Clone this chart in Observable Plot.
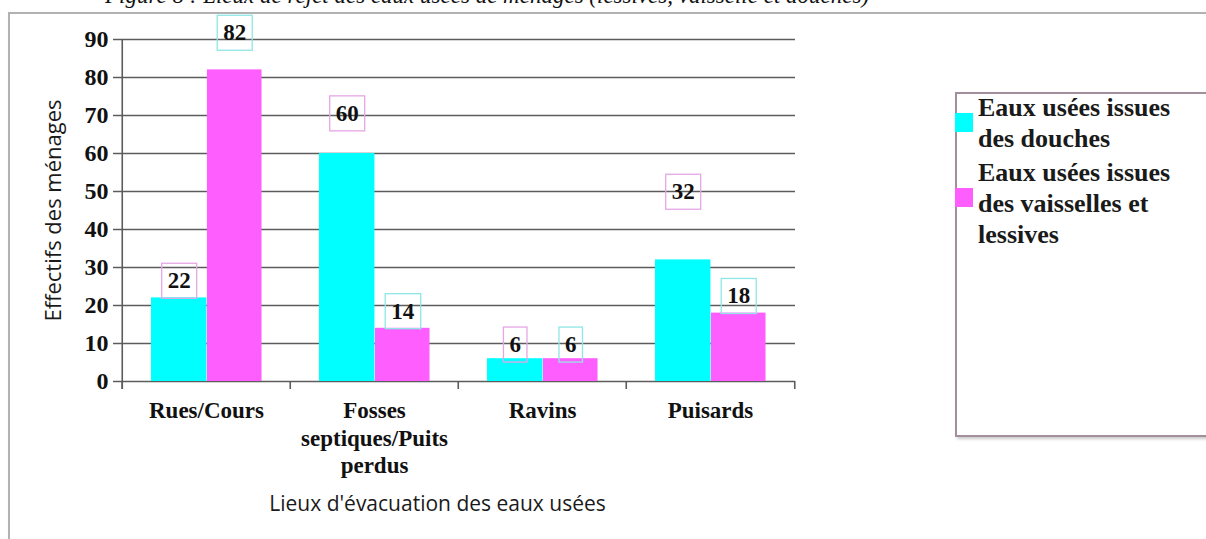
<!DOCTYPE html>
<html>
<head>
<meta charset="utf-8">
<script src="https://cdn.jsdelivr.net/npm/d3@7"></script>
<script src="https://cdn.jsdelivr.net/npm/@observablehq/plot@0.6"></script>
<style>
  html, body { margin: 0; padding: 0; background: #fff; }
  #wrap { position: relative; width: 1206px; height: 539px; overflow: hidden; background: #fff; }
  #title { position: absolute; left: 105px; top: -17px; font: italic 23px "Liberation Serif", serif; white-space: nowrap; color: #111; }
  #frame { position: absolute; left: 8px; top: 12px; width: 1230px; height: 580px; border: 2px solid #b2b2b2; box-shadow: 1px 1px 2px #d0d0d0; background: #fff; }
  #chart { position: absolute; left: 0; top: 0; }
  #legend { position: absolute; left: 955px; top: 92px; width: 270px; height: 341px; border: 2px solid #a38f9b; box-shadow: 2px 2px 3px #c8c8c8; background: #fff; }
  .item { position: absolute; left: 0; font: bold 26px "Liberation Serif", serif; line-height: 31px; color: #1a1a1a; }
  .sw { position: absolute; left: -2px; width: 18px; height: 19px; }
  .txt { position: absolute; left: 21px; white-space: nowrap; }
</style>
</head>
<body>
<div id="wrap">
  <div id="frame"></div>
  <div id="title"></div>
  <div id="chart"></div>
  <div id="legend"></div>
</div>
<script>
// ---- data ----
const categories = ["Rues/Cours", "Fosses septiques/Puits perdus", "Ravins", "Puisards"];
const categoryLabels = ["Rues/Cours", "Fosses\nseptiques/Puits\nperdus", "Ravins", "Puisards"];
const seriesNames = ["Eaux usées issues des douches", "Eaux usées issues des vaisselles et lessives"];
const legendLines = [["Eaux usées issues", "des douches"], ["Eaux usées issues", "des vaisselles et", "lessives"]];
const douches = [22, 60, 6, 32];
const vaisselles = [82, 14, 6, 18];
const yTicks = [0, 10, 20, 30, 40, 50, 60, 70, 80, 90];
const titleText = "Figure 8 : Lieux de rejet des eaux usées de ménages (lessives, vaisselle et douches)";
const xTitle = "Lieux d'évacuation des eaux usées";
const yTitle = "Effectifs des ménages";

// ---- styles / layout ----
const colors = ["#00ffff", "#ff5eff"];
const boxColors = ["#e6a6e6", "#8fe6e6"];
const W = 1206, H = 539, mL = 121, mR = 411, mT = 39, mB = 158;
const bw = (W - mL - mR) / categories.length;
const pxPerUnit = (H - mT - mB) / 90;
const insets = [
  {left: 0.172 * bw, right: bw - 0.172 * bw - 0.332 * bw},
  {left: 0.504 * bw, right: bw - 0.504 * bw - 0.327 * bw}
];
const centerOff = insets.map(s => (s.left + (bw - s.right)) / 2 - bw / 2);
// label lift above bar top (px); a few labels sit higher in the original
const liftDefault = 17;
const liftSpecial = {"Rues/Cours|1": 37, "Fosses septiques/Puits perdus|0": 40, "Puisards|0": 68, "Ravins|0": 14, "Ravins|1": 14};

const rows = categories.flatMap((c, i) => [
  {cat: c, s: 0, v: douches[i]},
  {cat: c, s: 1, v: vaisselles[i]}
]);

const serifBold = {fontFamily: "Liberation Serif", fontWeight: "bold", fontSize: 24, fill: "#111"};
const gridColor = "#5c5c5c";

const marks = [
  Plot.ruleY(yTicks, {y: d => d, stroke: gridColor, strokeWidth: 1.6, insetLeft: -8}),
  ...[0, 1].map(s => Plot.barY(rows.filter(r => r.s === s), {
    x: "cat", y: "v", fill: colors[s], insetLeft: insets[s].left, insetRight: insets[s].right
  })),
  Plot.ruleX([categories[0]], {x: d => d, dx: -bw / 2, stroke: gridColor, strokeWidth: 1.6, insetBottom: -8}),
  Plot.ruleX(categories, {x: d => d, dx: -bw / 2, y1: () => 0, y2: () => 0, insetBottom: -8, stroke: gridColor, strokeWidth: 1.6}),
  Plot.ruleX([categories[categories.length - 1]], {x: d => d, dx: bw / 2, y1: () => 0, y2: () => 0, insetBottom: -8, stroke: gridColor, strokeWidth: 1.6}),
  Plot.text(yTicks, {y: d => d, text: d => String(d), frameAnchor: "left", dx: -13, textAnchor: "end", ...serifBold}),
  Plot.text(categories, {x: d => d, text: (d, i) => categoryLabels[i], frameAnchor: "bottom", lineAnchor: "top", dy: 17, lineHeight: 1.2, ...serifBold, fontSize: 23}),
  ...[0, 1].map(s => Plot.text(rows.filter(r => r.s === s), {
    x: "cat",
    y: d => d.v + (liftSpecial[d.cat + "|" + s] ?? liftDefault) / pxPerUnit,
    text: d => String(d.v),
    dx: centerOff[s],
    lineAnchor: "middle",
    ariaDescription: "valeurs-" + s,
    ...serifBold, fontSize: 23
  })),
  Plot.text([yTitle], {text: d => d, frameAnchor: "left", textAnchor: "middle", dx: -68, rotate: -90, fontFamily: "Open Sans", fontSize: 22, fill: "#1a1a1a"}),
  Plot.text([xTitle], {text: d => d, frameAnchor: "bottom", dy: 129, dx: -21, fontFamily: "Open Sans", fontSize: 21, fill: "#1a1a1a"})
];

const chart = Plot.plot({
  width: W, height: H,
  marginLeft: mL, marginRight: mR, marginTop: mT, marginBottom: mB,
  x: {type: "band", domain: categories, padding: 0, axis: null},
  y: {domain: [0, 90], axis: null},
  style: {background: "transparent", overflow: "visible"},
  marks
});
document.getElementById("chart").appendChild(chart);

// bordered boxes around the value labels
[0, 1].forEach(s => {
  const g = chart.querySelector(`g[aria-description="valeurs-${s}"]`);
  if (!g) return;
  g.querySelectorAll("text").forEach(t => {
    const b = t.getBBox();
    const r = document.createElementNS("http://www.w3.org/2000/svg", "rect");
    r.setAttribute("x", b.x - 6);
    r.setAttribute("y", b.y - 5);
    r.setAttribute("width", b.width + 12);
    r.setAttribute("height", b.height + 10);
    r.setAttribute("fill", "none");
    r.setAttribute("stroke", boxColors[s]);
    r.setAttribute("stroke-width", 1.3);
    const tr = t.getAttribute("transform");
    if (tr) r.setAttribute("transform", tr);
    t.parentNode.insertBefore(r, t);
  });
});

document.getElementById("title").textContent = titleText;

// legend
const legend = document.getElementById("legend");
const legendTops = [107 - 15.5 - 94, 172 - 15.5 - 94];
const swatchTops = [113 - 94, 188 - 94];
legendLines.forEach((lines, s) => {
  const item = document.createElement("div");
  item.className = "item";
  item.style.top = "0px";
  const sw = document.createElement("div");
  sw.className = "sw";
  sw.style.top = swatchTops[s] + "px";
  sw.style.background = colors[s];
  const tx = document.createElement("div");
  tx.className = "txt";
  tx.style.top = legendTops[s] + "px";
  tx.innerHTML = lines.join("<br>");
  tx.title = seriesNames[s];
  item.appendChild(sw);
  item.appendChild(tx);
  legend.appendChild(item);
});
</script>
</body>
</html>
